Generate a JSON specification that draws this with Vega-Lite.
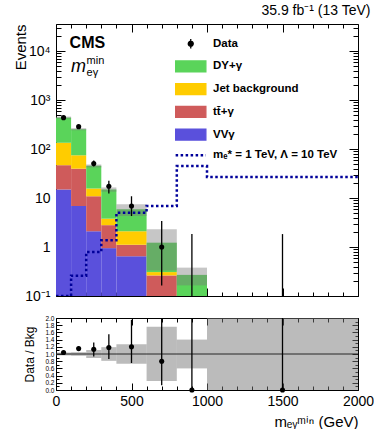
{
  "$schema": "https://vega.github.io/schema/vega-lite/v6.json",
  "padding": {"left": 12, "top": 3, "right": 5, "bottom": 5},
  "spacing": 10,
  "config": {
    "font": "Liberation Sans",
    "view": {"stroke": "black", "strokeWidth": 1},
    "axis": {"domain": false, "grid": false, "tickColor": "black", "tickWidth": 1, "labelColor": "black", "titleColor": "black", "labelFont": "Liberation Sans", "titleFont": "Liberation Sans", "titleFontWeight": "normal", "labelFontSize": 14, "titleFontSize": 14, "labelOverlap": false, "labelFlush": false, "labelBound": false}
  },
  "resolve": {"scale": {"color": "independent"}},
  "datasets": {
    "bkg": [
      {"bin": 0, "bin_end": 100, "process": "VVγ", "events": 15},
      {"bin": 0, "bin_end": 100, "process": "tt̄+γ", "events": 32},
      {"bin": 0, "bin_end": 100, "process": "Jet background", "events": 88},
      {"bin": 0, "bin_end": 100, "process": "DY+γ", "events": 305},
      {"bin": 100, "bin_end": 200, "process": "VVγ", "events": 6.9},
      {"bin": 100, "bin_end": 200, "process": "tt̄+γ", "events": 33},
      {"bin": 100, "bin_end": 200, "process": "Jet background", "events": 35},
      {"bin": 100, "bin_end": 200, "process": "DY+γ", "events": 180},
      {"bin": 200, "bin_end": 300, "process": "VVγ", "events": 2.1},
      {"bin": 200, "bin_end": 300, "process": "tt̄+γ", "events": 8.8},
      {"bin": 200, "bin_end": 300, "process": "Jet background", "events": 4.8},
      {"bin": 200, "bin_end": 300, "process": "DY+γ", "events": 30},
      {"bin": 300, "bin_end": 400, "process": "VVγ", "events": 0.95},
      {"bin": 300, "bin_end": 400, "process": "tt̄+γ", "events": 1.85},
      {"bin": 300, "bin_end": 400, "process": "Jet background", "events": 1.0},
      {"bin": 300, "bin_end": 400, "process": "DY+γ", "events": 11.2},
      {"bin": 400, "bin_end": 600, "process": "VVγ", "events": 0.645},
      {"bin": 400, "bin_end": 600, "process": "tt̄+γ", "events": 0.475},
      {"bin": 400, "bin_end": 600, "process": "Jet background", "events": 0.98},
      {"bin": 400, "bin_end": 600, "process": "DY+γ", "events": 3.8},
      {"bin": 600, "bin_end": 800, "process": "VVγ", "events": 0.05},
      {"bin": 600, "bin_end": 800, "process": "tt̄+γ", "events": 0.213},
      {"bin": 600, "bin_end": 800, "process": "Jet background", "events": 0.045},
      {"bin": 600, "bin_end": 800, "process": "DY+γ", "events": 0.92},
      {"bin": 800, "bin_end": 1000, "process": "VVγ", "events": 0.01},
      {"bin": 800, "bin_end": 1000, "process": "tt̄+γ", "events": 0.03},
      {"bin": 800, "bin_end": 1000, "process": "Jet background", "events": 0.01},
      {"bin": 800, "bin_end": 1000, "process": "DY+γ", "events": 0.22}
    ],
    "band": [
      {"bin": 0, "bin_end": 100, "lo": 420, "hi": 462},
      {"bin": 100, "bin_end": 200, "lo": 243, "hi": 268},
      {"bin": 200, "bin_end": 300, "lo": 42, "hi": 48.5},
      {"bin": 300, "bin_end": 400, "lo": 13.5, "hi": 16.5},
      {"bin": 400, "bin_end": 600, "lo": 4.3, "hi": 7.5},
      {"bin": 600, "bin_end": 800, "lo": 0.33, "hi": 2.3},
      {"bin": 800, "bin_end": 1000, "lo": 0.165, "hi": 0.38}
    ],
    "rband": [
      {"bin": 0, "bin_end": 100, "lo": 0.96, "hi": 1.04},
      {"bin": 100, "bin_end": 200, "lo": 0.95, "hi": 1.05},
      {"bin": 200, "bin_end": 300, "lo": 0.89, "hi": 1.11},
      {"bin": 300, "bin_end": 400, "lo": 0.81, "hi": 1.19},
      {"bin": 400, "bin_end": 600, "lo": 0.73, "hi": 1.27},
      {"bin": 600, "bin_end": 800, "lo": 0.25, "hi": 1.76},
      {"bin": 800, "bin_end": 1000, "lo": 0.6, "hi": 1.4},
      {"bin": 1000, "bin_end": 2000, "lo": 0, "hi": 2}
    ],
    "obs": [
      {"mass": 50, "events": 440, "lo": 420, "hi": 461, "ratio": 1.04, "rlo": 1.0, "rhi": 1.08},
      {"mass": 150, "events": 288, "lo": 271, "hi": 305, "ratio": 1.15, "rlo": 1.09, "rhi": 1.21},
      {"mass": 250, "events": 51, "lo": 44, "hi": 58.5, "ratio": 1.13, "rlo": 0.93, "rhi": 1.32},
      {"mass": 350, "events": 17.5, "lo": 12.4, "hi": 22.5, "ratio": 1.18, "rlo": 0.86, "rhi": 1.55},
      {"mass": 500, "events": 6.9, "lo": 4.3, "hi": 10.9, "ratio": 1.2, "rlo": 0.75, "rhi": 1.95},
      {"mass": 700, "events": 1.0, "lo": 0.164, "hi": 3.4, "ratio": 0.8, "rlo": 0.13, "rhi": 2.6},
      {"mass": 900, "events": 0, "lo": 0, "hi": 1.84, "ratio": 0, "rlo": 0, "rhi": 6.8},
      {"mass": 1500, "events": 0, "lo": 0, "hi": 1.84, "ratio": 0, "rlo": 0, "rhi": 6.8}
    ],
    "sig": [
      {"mass": 0, "events": 0.1},
      {"mass": 100, "events": 0.26},
      {"mass": 200, "events": 0.79},
      {"mass": 300, "events": 1.37},
      {"mass": 400, "events": 5.0},
      {"mass": 600, "events": 6.9},
      {"mass": 800, "events": 45},
      {"mass": 1000, "events": 27},
      {"mass": 2000, "events": 27}
    ]
  },
  "vconcat": [
    {
      "width": 302,
      "height": 272,
      "title": {"text": "35.9 fb⁻¹ (13 TeV)", "anchor": "end", "fontSize": 14, "fontWeight": "normal", "font": "Liberation Sans", "offset": 6, "dx": 12, "color": "black"},
      "resolve": {"axis": {"x": "independent", "y": "independent"}},
      "layer": [
        {
          "data": {"name": "bkg"},
          "transform": [{"stack": "events", "groupby": ["bin"], "as": ["ev_lo", "ev_hi"]}],
          "mark": {"type": "rect"},
          "encoding": {
            "x": {"field": "bin", "type": "quantitative", "scale": {"domain": [0, 2000], "nice": false, "zero": false},
                  "axis": {"orient": "bottom", "values": [0, 500, 1000, 1500, 2000], "labels": false, "tickSize": -8, "title": null}},
            "x2": {"field": "bin_end"},
            "y": {"field": "ev_hi", "type": "quantitative", "stack": null, "scale": {"type": "log", "domain": [0.1, 36000], "nice": false, "clamp": true},
                  "axis": {"orient": "left", "values": [0.1, 1, 10, 100, 1000, 10000], "tickSize": -9, "labelPadding": 15,
                           "labelExpr": "datum.value < 0.5 ? '10⁻¹' : datum.value < 5 ? '1' : datum.value < 50 ? '10' : datum.value < 500 ? '10²' : datum.value < 5000 ? '10³' : '10⁴'",
                           "title": "Events", "titleFontSize": 15, "titleX": -28, "titleY": 0, "titleAlign": "right", "titleBaseline": "bottom", "titleAngle": -90, "titleAnchor": null}},
            "y2": {"field": "ev_lo"},
            "color": {"field": "process", "type": "nominal",
                      "scale": {"domain": ["Data", "DY+γ", "Jet background", "tt̄+γ", "VVγ", "mₑ* = 1 TeV,  Λ = 10 TeV"],
                                "range": ["#000000", "#5ad45a", "#ffcc00", "#cf5b5b", "#5a50dc", "#00009a"]},
                      "legend": {"orient": "none", "legendX": 129, "legendY": 14, "title": null, "padding": 0, "symbolOffset": 0,
                                 "symbolSize": 121, "labelOffset": 16.5, "rowPadding": 5.7, "labelFontSize": 11.5, "labelFontWeight": "bold",
                                 "labelFont": "Liberation Sans", "labelColor": "black", "labelLimit": 400,
                                 "encode": {"symbols": {"update": {
                                   "shape": {"signal": "datum.value === 'Data' ? 'M-0.45,0A0.45,0.45 0 1,1 0.45,0A0.45,0.45 0 1,1 -0.45,0ZM0,-0.85V0.85' : datum.value === 'mₑ* = 1 TeV,  Λ = 10 TeV' ? 'M-2.75,0H2.75' : 'M-2.75,-1H2.75V1H-2.75Z'"},
                                   "fill": {"signal": "datum.value === 'Data' ? '#000000' : datum.value === 'mₑ* = 1 TeV,  Λ = 10 TeV' ? 'transparent' : datum.value === 'DY+γ' ? '#5ad45a' : datum.value === 'Jet background' ? '#ffcc00' : datum.value === 'VVγ' ? '#5a50dc' : '#cf5b5b'"},
                                   "stroke": {"signal": "datum.value === 'Data' ? '#000000' : datum.value === 'mₑ* = 1 TeV,  Λ = 10 TeV' ? '#00009a' : 'transparent'"},
                                   "strokeWidth": {"signal": "datum.value === 'mₑ* = 1 TeV,  Λ = 10 TeV' ? 2.5 : 1.3"},
                                   "strokeDash": {"signal": "datum.value === 'mₑ* = 1 TeV,  Λ = 10 TeV' ? [2.5, 2.5] : [1, 0]"},
                                   "size": {"value": 121},
                                   "opacity": {"value": 1},
                                   "fillOpacity": {"value": 1}
                                 }}}}}
          }
        },
        {
          "data": {"name": "band"},
          "mark": {"type": "rect", "color": "#777777", "opacity": 0.42},
          "encoding": {
            "x": {"field": "bin", "type": "quantitative", "axis": {"orient": "top", "values": [0, 500, 1000, 1500, 2000], "labels": false, "tickSize": -8, "title": null}},
            "x2": {"field": "bin_end"},
            "y": {"field": "lo", "type": "quantitative", "axis": {"orient": "right", "values": [0.1, 1, 10, 100, 1000, 10000], "labels": false, "tickSize": -9, "title": null}},
            "y2": {"field": "hi"}
          }
        },
        {
          "data": {"name": "sig"},
          "mark": {"type": "line", "interpolate": "step-after", "strokeWidth": 2.5, "strokeDash": [2.5, 2.5], "clip": true},
          "encoding": {
            "x": {"field": "mass", "type": "quantitative", "axis": {"orient": "bottom", "values": [100, 200, 300, 400, 600, 700, 800, 900, 1100, 1200, 1300, 1400, 1600, 1700, 1800, 1900], "labels": false, "tickSize": -4, "title": null}},
            "y": {"field": "events", "type": "quantitative", "axis": {"orient": "left", "values": [0.2, 0.3, 0.4, 0.5, 0.6, 0.7, 0.8, 0.9, 2, 3, 4, 5, 6, 7, 8, 9, 20, 30, 40, 50, 60, 70, 80, 90, 200, 300, 400, 500, 600, 700, 800, 900, 2000, 3000, 4000, 5000, 6000, 7000, 8000, 9000, 20000, 30000], "labels": false, "tickSize": -5, "title": null}},
            "color": {"datum": "mₑ* = 1 TeV,  Λ = 10 TeV", "type": "nominal"}
          }
        },
        {
          "data": {"name": "obs"},
          "transform": [{"filter": "datum.events > 0"}],
          "mark": {"type": "point", "filled": true, "size": 26, "opacity": 1},
          "encoding": {
            "x": {"field": "mass", "type": "quantitative", "axis": {"orient": "top", "values": [100, 200, 300, 400, 600, 700, 800, 900, 1100, 1200, 1300, 1400, 1600, 1700, 1800, 1900], "labels": false, "tickSize": -4, "title": null}},
            "y": {"field": "events", "type": "quantitative", "axis": {"orient": "right", "values": [0.2, 0.3, 0.4, 0.5, 0.6, 0.7, 0.8, 0.9, 2, 3, 4, 5, 6, 7, 8, 9, 20, 30, 40, 50, 60, 70, 80, 90, 200, 300, 400, 500, 600, 700, 800, 900, 2000, 3000, 4000, 5000, 6000, 7000, 8000, 9000, 20000, 30000], "labels": false, "tickSize": -5, "title": null}},
            "color": {"datum": "Data", "type": "nominal"}
          }
        },
        {
          "data": {"name": "obs"},
          "mark": {"type": "rule", "color": "black", "strokeWidth": 1.3},
          "encoding": {
            "x": {"field": "mass", "type": "quantitative", "axis": null},
            "y": {"field": "hi", "type": "quantitative", "axis": null},
            "y2": {"field": "lo"}
          }
        },
        {
          "data": {"values": [{}]},
          "mark": {"type": "text", "text": "CMS", "font": "Liberation Sans", "fontWeight": "bold", "fontSize": 16, "align": "left", "baseline": "alphabetic", "color": "black"},
          "encoding": {
            "x": {"datum": 90, "type": "quantitative", "axis": null},
            "y": {"datum": 11500, "type": "quantitative", "axis": null}
          }
        },
        {
          "data": {"values": [{}]},
          "mark": {"type": "text", "text": "m", "font": "Liberation Sans", "fontStyle": "italic", "fontSize": 18, "align": "left", "baseline": "alphabetic", "color": "black"},
          "encoding": {
            "x": {"datum": 100, "type": "quantitative", "axis": null},
            "y": {"datum": 3700, "type": "quantitative", "axis": null}
          }
        },
        {
          "data": {"values": [{}]},
          "mark": {"type": "text", "text": "min", "font": "Liberation Sans", "fontSize": 11, "align": "left", "baseline": "alphabetic", "dx": 15.5, "dy": -8, "color": "black"},
          "encoding": {
            "x": {"datum": 100, "type": "quantitative", "axis": null},
            "y": {"datum": 3700, "type": "quantitative", "axis": null}
          }
        },
        {
          "data": {"values": [{}]},
          "mark": {"type": "text", "text": "eγ", "font": "Liberation Sans", "fontSize": 11, "align": "left", "baseline": "alphabetic", "dx": 15.5, "dy": 4, "color": "black"},
          "encoding": {
            "x": {"datum": 100, "type": "quantitative", "axis": null},
            "y": {"datum": 3700, "type": "quantitative", "axis": null}
          }
        }
      ]
    },
    {
      "width": 302,
      "height": 72,
      "resolve": {"axis": {"x": "independent", "y": "independent"}},
      "layer": [
        {
          "data": {"name": "rband"},
          "mark": {"type": "rect", "color": "#777777", "opacity": 0.5},
          "encoding": {
            "x": {"field": "bin", "type": "quantitative", "scale": {"domain": [0, 2000], "nice": false, "zero": false},
                  "axis": {"orient": "bottom", "values": [0, 500, 1000, 1500, 2000], "format": "d", "tickSize": -7, "labelPadding": 11, "title": "mₑᵧᵐⁱⁿ (GeV)", "titleAnchor": "end", "titlePadding": 6, "titleFontSize": 15}},
            "x2": {"field": "bin_end"},
            "y": {"field": "lo", "type": "quantitative", "scale": {"domain": [0, 2], "nice": false, "zero": false, "clamp": true},
                  "axis": {"orient": "left", "values": [0, 0.2, 0.4, 0.6, 0.8, 1, 1.2, 1.4, 1.6, 1.8, 2], "tickSize": -6, "labelFontSize": 6.5, "labelPadding": 8,
                           "title": "Data / Bkg", "titleFontSize": 12, "titleX": -20, "titleY": 36, "titleAlign": "center", "titleBaseline": "bottom", "titleAngle": -90, "titleAnchor": null}},
            "y2": {"field": "hi"}
          }
        },
        {
          "data": {"values": [{}]},
          "mark": {"type": "rule", "color": "black", "strokeWidth": 0.8},
          "encoding": {
            "x": {"datum": 0, "type": "quantitative", "axis": {"orient": "top", "values": [0, 500, 1000, 1500, 2000], "labels": false, "tickSize": -7, "title": null}},
            "x2": {"datum": 2000},
            "y": {"datum": 1, "type": "quantitative", "axis": {"orient": "right", "values": [0, 0.2, 0.4, 0.6, 0.8, 1, 1.2, 1.4, 1.6, 1.8, 2], "labels": false, "tickSize": -6, "title": null}}
          }
        },
        {
          "data": {"name": "obs"},
          "mark": {"type": "point", "filled": true, "size": 26, "opacity": 1, "color": "black"},
          "encoding": {
            "x": {"field": "mass", "type": "quantitative", "axis": {"orient": "bottom", "values": [100, 200, 300, 400, 600, 700, 800, 900, 1100, 1200, 1300, 1400, 1600, 1700, 1800, 1900], "labels": false, "tickSize": -4, "title": null}},
            "y": {"field": "ratio", "type": "quantitative", "axis": {"orient": "left", "values": [0.1, 0.3, 0.5, 0.7, 0.9, 1.1, 1.3, 1.5, 1.7, 1.9], "labels": false, "tickSize": -3, "title": null}}
          }
        },
        {
          "data": {"name": "obs"},
          "mark": {"type": "rule", "color": "black", "strokeWidth": 1.3},
          "encoding": {
            "x": {"field": "mass", "type": "quantitative", "axis": {"orient": "top", "values": [100, 200, 300, 400, 600, 700, 800, 900, 1100, 1200, 1300, 1400, 1600, 1700, 1800, 1900], "labels": false, "tickSize": -4, "title": null}},
            "y": {"field": "rhi", "type": "quantitative", "axis": {"orient": "right", "values": [0.1, 0.3, 0.5, 0.7, 0.9, 1.1, 1.3, 1.5, 1.7, 1.9], "labels": false, "tickSize": -3, "title": null}},
            "y2": {"field": "rlo"}
          }
        }
      ]
    }
  ]
}
